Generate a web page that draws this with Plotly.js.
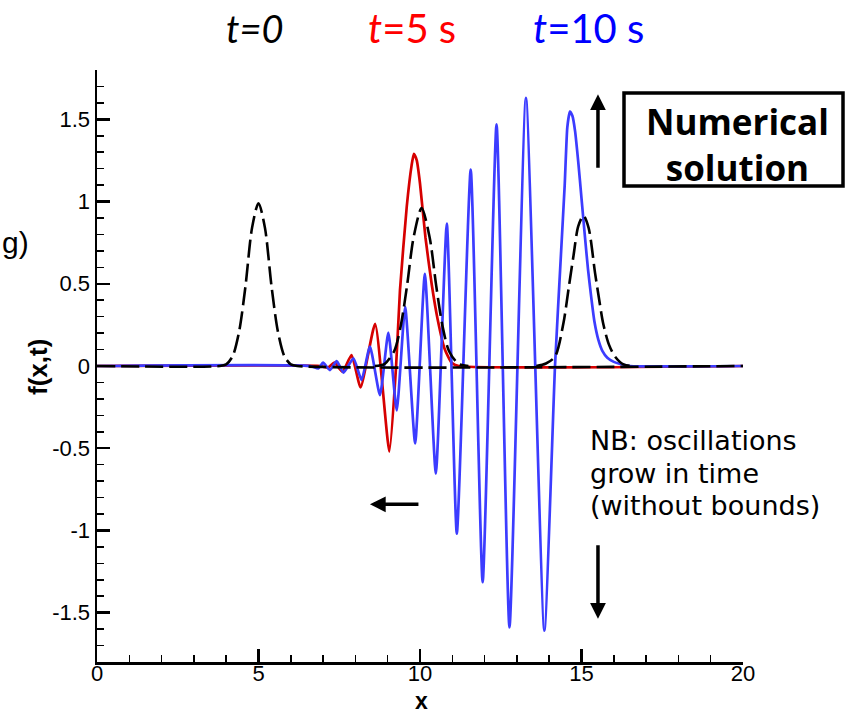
<!DOCTYPE html>
<html>
<head>
<meta charset="utf-8">
<script src="https://cdn.plot.ly/plotly-3.0.1.min.js"></script>
<style>
  html, body { margin: 0; padding: 0; background: #fff; }
  #chart { width: 848px; height: 713px; }
</style>
</head>
<body>
<div id="chart"></div>
<script>
// ---- data ----
// numerical solution at t = 10 s (blue)
const xBlue = [0, 6.6, 6.85, 7.0, 7.21, 7.42, 7.63, 7.94, 8.19, 8.45, 8.76, 9.02, 9.28, 9.54, 9.85, 10.15, 10.49, 10.83, 11.14, 11.57, 11.94, 12.37, 12.77, 13.28, 13.85, 14.18, 14.37, 14.48, 14.56, 14.64, 14.72, 14.80, 14.90, 15.0, 15.1, 15.2, 15.3, 15.4, 15.52, 15.65, 15.8, 16.0, 16.2, 16.5, 20];
const yBlue = [0, 0, -0.015, 0.02, -0.025, 0.03, -0.04, 0.047, -0.085, 0.118, -0.177, 0.203, -0.27, 0.36, -0.47, 0.56, -0.655, 0.866, -1.02, 1.195, -1.315, 1.47, -1.59, 1.63, -1.61, 0, 0.70, 1.10, 1.45, 1.547, 1.52, 1.43, 1.24, 1.02, 0.80, 0.59, 0.42, 0.27, 0.16, 0.09, 0.05, 0.025, 0.012, 0, 0];

// numerical solution at t = 5 s (red)
const xRed = [0, 6.9, 7.15, 7.35, 7.6, 7.88, 8.16, 8.61, 9.05, 9.26, 9.38, 9.59, 9.74, 9.81, 9.9, 10.0, 10.17, 10.36, 10.55, 10.77, 10.98, 11.2, 20];
const yRed = [0, 0, -0.01, 0.02, -0.035, 0.067, -0.13, 0.256, -0.52, 0, 0.46, 0.97, 1.22, 1.29, 1.25, 1.11, 0.78, 0.50, 0.28, 0.10, 0.02, 0, 0];

// initial condition t = 0 (black dashed)
const xT0 = [0, 3.8, 4.0, 4.2, 4.4, 4.6, 4.8, 5.0, 5.2, 5.4, 5.6, 5.8, 6.0, 6.2, 20];
const yT0 = [0, 0, 0.01, 0.06, 0.21, 0.49, 0.84, 0.99, 0.84, 0.49, 0.21, 0.06, 0.01, 0, 0];

// exact solution at t = 5 s (black dashed)
const xEx5 = [8.6, 8.9, 9.2, 9.4, 9.6, 9.8, 10.05, 10.3, 10.5, 10.7, 10.9, 11.2, 11.5];
const yEx5 = [0, 0.012, 0.09, 0.24, 0.49, 0.78, 0.96, 0.78, 0.49, 0.24, 0.09, 0.012, 0];

// exact solution at t = 10 s (black dashed)
const xEx10 = [13.6, 13.9, 14.18, 14.44, 14.6, 14.75, 14.9, 15.06, 15.22, 15.42, 15.55, 15.67, 15.85, 16.04, 16.3, 16.6];
const yEx10 = [0, 0.015, 0.057, 0.26, 0.47, 0.667, 0.85, 0.915, 0.84, 0.565, 0.40, 0.26, 0.13, 0.057, 0.01, 0];

// tick labels
const yTickVals = [-1.5, -1, -0.5, 0, 0.5, 1, 1.5];
const yTickText = ['-1.5', '-1', '-0.5', '0', '0.5', '1', '1.5'];
const xTickVals = [0, 5, 10, 15, 20];
const xTickText = ['0', '5', '10', '15', '20'];

// note text lines
const nbLines = ['NB: oscillations', 'grow in time', '(without bounds)'];

// ---- styling ----
const BLUE = '#3c3cff';
const RED = '#d60000';
const dashStyle = '18px,6px';
const ARIAL = 'Liberation Sans, Arial, sans-serif';
const tickFont = { family: ARIAL, size: 22, color: '#000' };
const txtFont = 'Lato, "Open Sans", sans-serif';
const boxFont = '"Open Sans", Lato, sans-serif';
const nbFont = '"DejaVu Sans", "Open Sans", sans-serif';

// plot-area pixel helpers (plot area: x 97..743, y 70..662)
const px2paperX = p => (p - 97) / 646;
const px2paperY = p => (662 - p) / 592;

const traces = [
  { x: xRed, y: yRed, mode: 'lines', line: { color: RED, width: 2.7, shape: 'spline', smoothing: 0.5 }, hoverinfo: 'skip' },
  { x: xBlue, y: yBlue, mode: 'lines', line: { color: BLUE, width: 2.7, shape: 'spline', smoothing: 0.5 }, hoverinfo: 'skip' },
  { x: xT0, y: yT0, mode: 'lines', line: { color: '#000', width: 2.6, dash: dashStyle, shape: 'spline', smoothing: 0.8 }, hoverinfo: 'skip' },
  { x: xEx5, y: yEx5, mode: 'lines', line: { color: '#000', width: 2.6, dash: dashStyle, shape: 'spline', smoothing: 0.8 }, hoverinfo: 'skip' },
  { x: xEx10, y: yEx10, mode: 'lines', line: { color: '#000', width: 2.6, dash: dashStyle, shape: 'spline', smoothing: 0.8 }, hoverinfo: 'skip' }
];

const axisCommon = {
  showgrid: false, zeroline: false, showline: true, linecolor: '#000', linewidth: 2.5,
  ticks: 'inside', ticklen: 13, tickwidth: 2.5, tickcolor: '#000',
  tickfont: tickFont, tickmode: 'array', automargin: false
};

const nbText = nbLines.map(s => '<span style="font-size:27px">' + s + '</span>').join('<br>');

const layout = {
  width: 848, height: 713,
  margin: { l: 97, r: 105, t: 70, b: 51 },
  paper_bgcolor: '#fff', plot_bgcolor: '#fff',
  showlegend: false,
  xaxis: Object.assign({}, axisCommon, {
    range: [0, 20], tickvals: xTickVals, ticktext: xTickText, ticklabelstandoff: -10,
    minor: { tickmode: 'linear', tick0: 0, dtick: 1, ticks: 'inside', ticklen: 7, tickwidth: 1.5, tickcolor: '#000' }
  }),
  yaxis: Object.assign({}, axisCommon, {
    range: [-1.8, 1.8], tickvals: yTickVals, ticktext: yTickText,
    minor: { tickmode: 'linear', tick0: 0, dtick: 0.1, ticks: 'inside', ticklen: 7, tickwidth: 1.5, tickcolor: '#000' }
  }),
  shapes: [
    { type: 'rect', xref: 'paper', yref: 'paper', x0: px2paperX(624), x1: px2paperX(843), y0: px2paperY(186), y1: px2paperY(93),
      line: { color: '#000', width: 3.5 }, fillcolor: 'rgba(0,0,0,0)' }
  ],
  annotations: [
    // axis titles
    { xref: 'paper', yref: 'paper', x: px2paperX(421), y: px2paperY(700.5), xanchor: 'center', yanchor: 'middle', borderpad: 0,
      text: '<b>x</b>', showarrow: false, font: { family: ARIAL, size: 23, color: '#000' } },
    { xref: 'paper', yref: 'paper', x: px2paperX(38), y: px2paperY(367), xanchor: 'center', yanchor: 'middle',
      text: '<b>f(x,t)</b>', textangle: -90, showarrow: false, font: { family: ARIAL, size: 26, color: '#000' } },
    // boxed label
    { xref: 'paper', yref: 'paper', x: px2paperX(737), y: px2paperY(145), xanchor: 'center', yanchor: 'middle',
      text: '<b>Numerical<br>solution</b>', showarrow: false, align: 'center',
      font: { family: boxFont, size: 35, color: '#000' } },
    // note (line spacing 1.3 x 25 px, glyphs drawn at 27 px)
    { xref: 'paper', yref: 'paper', x: px2paperX(588), y: px2paperY(473), xanchor: 'left', yanchor: 'middle',
      text: nbText, showarrow: false, align: 'left', font: { family: nbFont, size: 25, color: '#000' } },
    // time labels
    { xref: 'paper', yref: 'paper', x: px2paperX(255), y: px2paperY(28), xanchor: 'center', yanchor: 'middle',
      text: '<i>t=0</i>', showarrow: false, font: { family: txtFont, size: 38, color: '#000' } },
    { xref: 'paper', yref: 'paper', x: px2paperX(412), y: px2paperY(28), xanchor: 'center', yanchor: 'middle',
      text: '<i>t</i>=5 s', showarrow: false, font: { family: txtFont, size: 40, color: '#ff0000' } },
    { xref: 'paper', yref: 'paper', x: px2paperX(588), y: px2paperY(28), xanchor: 'center', yanchor: 'middle',
      text: '<i>t</i>=10 s', showarrow: false, font: { family: txtFont, size: 40, color: '#0000ff' } },
    { xref: 'paper', yref: 'paper', x: px2paperX(0), y: px2paperY(242), xanchor: 'left', yanchor: 'middle',
      text: 'g)', showarrow: false, font: { family: ARIAL, size: 30, color: '#000' } },
    // arrows
    { xref: 'x', yref: 'y', x: 15.51, y: 1.652, ax: 0, ay: 75, text: '', showarrow: true,
      arrowhead: 2, arrowsize: 0.9, arrowwidth: 3.5, arrowcolor: '#000', standoff: 0 },
    { xref: 'x', yref: 'y', x: 15.51, y: -1.537, ax: 0, ay: -75, text: '', showarrow: true,
      arrowhead: 2, arrowsize: 0.9, arrowwidth: 3.5, arrowcolor: '#000', standoff: 0 },
    { xref: 'x', yref: 'y', x: 8.45, y: -0.841, ax: 50, ay: 0, text: '', showarrow: true,
      arrowhead: 2, arrowsize: 0.9, arrowwidth: 3.5, arrowcolor: '#000', standoff: 0 }
  ]
};

Plotly.newPlot('chart', traces, layout, { staticPlot: true, displayModeBar: false });
</script>
</body>
</html>
